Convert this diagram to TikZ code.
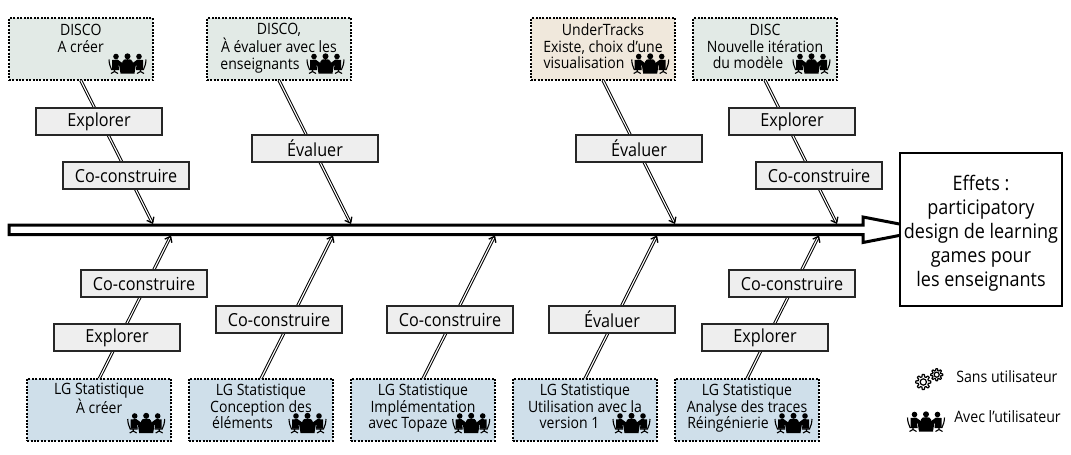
\documentclass[tikz,border=0pt]{standalone}
\usepackage{fontspec}
\setmainfont[FakeStretch=0.9]{Open Sans}
\usetikzlibrary{arrows.meta}
\newdimen\pxu \pxu=0.75pt
\newcommand\trail[1]{\hspace*{#1\pxu}}
\tikzset{
  srcbox/.style={draw=black,fill=#1,line width=2\pxu,dash pattern=on 2\pxu off 1.4\pxu,
    minimum width=144\pxu,minimum height=62\pxu,inner sep=0pt,outer sep=0pt,align=center,text depth=6\pxu,
    font=\fontsize{11.7pt}{12.3pt}\selectfont},
  actbox/.style={draw=black!85,fill=boxgrey,line width=1.8\pxu,minimum width=126\pxu,minimum height=27\pxu,
    inner sep=0pt,outer sep=0pt,font=\fontsize{13.5pt}{14pt}\selectfont},
  link/.style={draw=black,double=white,double distance=1.1\pxu,line width=1\pxu,
    -{Straight Barb[length=3.75pt,width=6pt,line width=1pt]}},
  mainarrow/.style={draw=black,fill=white,line width=3\pxu,line join=miter},
  effetbox/.style={draw=black,fill=white,line width=2.6\pxu,minimum width=162\pxu,minimum height=153\pxu,
    inner sep=0pt,outer sep=0pt,align=center,text height=118.5\pxu,font=\fontsize{15pt}{18pt}\selectfont},
  legendtext/.style={inner sep=0pt,anchor=west,font=\fontsize{11.8pt}{12pt}\selectfont},
  meeting/.pic={
    \foreach \s in {0,1}{
      \begin{scope}[shift={(\s*39,0)},xscale={1-2*\s}]
        \fill[black] (8,3) circle[radius=2.8];
        \fill[black] (4,6.5) -- (9.5,6) -- (15,10) -- (13.5,13) -- (10.5,11.5) -- (11,15.5) -- (4,15.5) -- cycle;
        \draw[black,line width=1.1\pxu] (1,6) .. controls (1.2,10) and (2,13) .. (3.5,16) -- (11,16)
          (6.5,16) -- (6.5,18) (3,20) -- (6.5,18) -- (10,20);
      \end{scope}
    }
    \fill[black] (19.5,2.8) circle[radius=3];
    \fill[black] (14.5,8) .. controls (14.5,6) and (17,5.7) .. (19.5,5.7) .. controls (22,5.7) and (24.5,6) .. (24.5,8) -- (25.5,12) -- (13.5,12) -- cycle;
    \fill[black] (11,10.5) -- (28,10.5) -- (26.5,20) -- (12.5,20) -- cycle;
  },
  gearicon/.pic={
    \draw[black,line width=1.2\pxu,line join=round] plot[domain=0:360,samples=97] (\x:{#1*(0.85+0.15*sign(cos(8*\x)))}) -- cycle;
    \draw[black,line width=1.2\pxu] (0,0) circle[radius=#1*0.42];
  }
}
\definecolor{boxgrey}{HTML}{EEEEEE}
\definecolor{topgreen}{HTML}{E2EAE6}
\definecolor{topsand}{HTML}{F0E8DC}
\definecolor{botblue}{HTML}{CFDFEA}
\begin{document}
\begin{tikzpicture}[x=0.75pt,y=-0.75pt]
\useasboundingbox (0,0) rectangle (1071,454);
\fill[white] (0,0) rectangle (1071,454);

% spine
\coordinate (spineA) at (9,225);
\coordinate (spineB) at (9,234.5);
\coordinate (headA) at (863,225);
\coordinate (headB) at (863,234.5);
\coordinate (headC) at (863,217);
\coordinate (headD) at (863,242.5);
\coordinate (headTip) at (929,229.7);
\draw[mainarrow] (spineA) -- (headA) -- (headC) -- (headTip) -- (headD) -- (headB) -- (spineB) -- cycle;
\node[effetbox] (effets) at (981,229.5) {Effets :\\participatory\\design de learning\\games pour\\les enseignants};

% end points on the spine
\foreach \n/\xx in {ua/153,ub/351,uc/675,ud/837}{\coordinate (\n) at (\xx,224);}
\foreach \n/\xx in {la/171,lb/333,lc/495,ld/657,le/819}{\coordinate (\n) at (\xx,235.5);}

% source boxes
\node[srcbox=topgreen] (t1) at (80.75,49.4) {DISCO\\A créer\\~};
\node[srcbox=topgreen] (t2) at (279,49.4) {DISCO,\\À évaluer avec les\\enseignants\trail{38}};
\node[srcbox=topsand] (t3) at (603,49.4) {UnderTracks\\Existe, choix d’une\\visualisation\trail{38}};
\node[srcbox=topgreen] (t4) at (765,49.4) {DISC\\Nouvelle itération\\du modèle\trail{34}};
\node[srcbox=botblue] (b1) at (99.25,409.5) {LG Statistique\\À créer\\~};
\node[srcbox=botblue] (b2) at (261,409.5) {LG Statistique\\Conception des\trail{32}\\éléments\trail{37}};
\node[srcbox=botblue] (b3) at (423,409.5) {LG Statistique\\Implémentation\trail{20}\\avec Topaze\trail{30}};
\node[srcbox=botblue] (b4) at (585,409.5) {LG Statistique\\Utilisation avec la\trail{10}\\version 1\trail{31}};
\node[srcbox=botblue] (b5) at (747,409.5) {LG Statistique\\Analyse des traces\trail{14}\\Réingénierie\trail{38}};

% connectors
\draw[link] (t1.south) -- (ua);
\draw[link] (t2.south) -- (ub);
\draw[link] (t3.south) -- (uc);
\draw[link] (t4.south) -- (ud);
\draw[link] (b1.north) -- (la);
\draw[link] (b2.north) -- (lb);
\draw[link] (b3.north) -- (lc);
\draw[link] (b4.north) -- (ld);
\draw[link] (b5.north) -- (le);

% activity labels
\node[actbox] (a1) at (99,121.5) {Explorer};
\node[actbox] (a2) at (126,175.5) {Co-construire};
\node[actbox] (a3) at (315,148.5) {Évaluer};
\node[actbox] (a4) at (639,148.5) {Évaluer};
\node[actbox] (a5) at (792,121.5) {Explorer};
\node[actbox] (a6) at (819,175.5) {Co-construire};
\node[actbox] (c1) at (144,283.5) {Co-construire};
\node[actbox] (c2) at (117,337.5) {Explorer};
\node[actbox] (c3) at (279,319.5) {Co-construire};
\node[actbox] (c4) at (450,319.5) {Co-construire};
\node[actbox] (c5) at (612,319.5) {Évaluer};
\node[actbox] (c6) at (792,283.5) {Co-construire};
\node[actbox] (c7) at (765,337.5) {Explorer};

% icons
\foreach \xx/\yy in {108/53.5,306/53.5,630.7/53.5,792/53.5,126.7/413,288/413,451.7/413,612/413,774/413,906.5/411.5}{
  \pic at (\xx,\yy) {meeting};
}
\pic at (923.3,382) {gearicon=7.5};
\pic at (936.7,374.7) {gearicon=6};

% legend
\node[legendtext] (l1) at (956,376.7) {Sans utilisateur};
\node[legendtext] (l2) at (954,417) {Avec l’utilisateur};
\end{tikzpicture}
\end{document}
